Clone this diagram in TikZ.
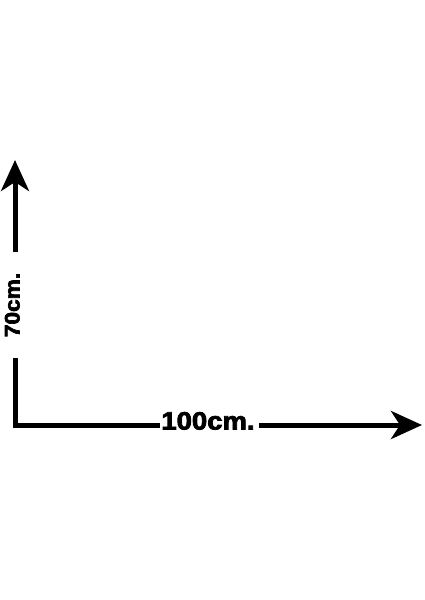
\documentclass[tikz,border=0pt]{standalone}
\usepackage{fontspec}
\usepackage{graphicx}
\setmainfont{Liberation Sans}
\newfontfamily\heavyfont[FakeBold=3]{Liberation Sans Bold}
\usetikzlibrary{arrows.meta}
\tikzset{
  axis/.style={line width=5pt, line cap=butt},
  axistip/.style={axis, -{Stealth[length=31pt,width=28pt,inset=9pt]}},
  lbl/.style={inner ysep=0pt, font=\heavyfont}
}
\begin{document}
\begin{tikzpicture}[x=1pt,y=-1pt]
\useasboundingbox (0,0) rectangle (424,600);
\coordinate (corner) at (15,425);
\coordinate (tipV) at (15,160);
\coordinate (tipH) at (422,425);
\node[lbl, inner xsep=4pt, anchor=base] (t100) at (208,429.5)
  {\fontsize{25}{28}\selectfont\scalebox{1.1}[1]{100cm.}};
\node[lbl, inner xsep=21pt, anchor=base, rotate=90] (t70) at (19.5,305)
  {\fontsize{21}{24}\selectfont\scalebox{1.08}[1]{70cm.}};
\draw[axis, line cap=rect] (corner) -- (t100.west |- corner);
\draw[axistip] (t100.east |- corner) -- (tipH);
\draw[axis] (corner) -- (corner |- t70.west);
\draw[axistip] (corner |- t70.east) -- (tipV);
\end{tikzpicture}
\end{document}
